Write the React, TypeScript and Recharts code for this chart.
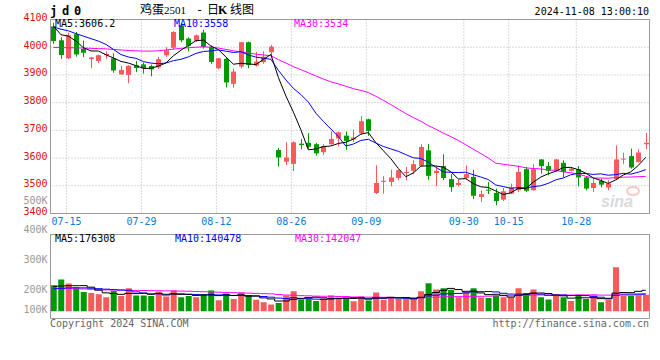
import React from 'react';
import { ComposedChart, Bar, Line, XAxis, YAxis, CartesianGrid, ReferenceLine, Cell } from 'recharts';

// trading days on screen, 07-11 .. 11-08
const dates = [
  '07-11', '07-12', '07-15', '07-16', '07-17', '07-18', '07-19', '07-22', '07-23', '07-24',
  '07-25', '07-26', '07-29', '07-30', '07-31', '08-01', '08-02', '08-05', '08-06', '08-07',
  '08-08', '08-09', '08-12', '08-13', '08-14', '08-15', '08-16', '08-19', '08-20', '08-21',
  '08-22', '08-23', '08-26', '08-27', '08-28', '08-29', '08-30', '09-02', '09-03', '09-04',
  '09-05', '09-06', '09-09', '09-10', '09-11', '09-12', '09-13', '09-18', '09-19', '09-20',
  '09-23', '09-24', '09-25', '09-26', '09-27', '09-30', '10-08', '10-09', '10-10', '10-11',
  '10-14', '10-15', '10-16', '10-17', '10-18', '10-21', '10-22', '10-23', '10-24', '10-25',
  '10-28', '10-29', '10-30', '10-31', '11-01', '11-04', '11-05', '11-06', '11-07', '11-08',
];

const opens = [
  4075, 4025, 3960, 4047, 3994, 3957, 3950, 3971, 3960, 3902,
  3900, 3935, 3938, 3932, 3927, 3971, 3998, 4079, 4031, 4023,
  4053, 4001, 3924, 3958, 3868, 3930, 4018, 3934, 3946, 3982,
  3629, 3587, 3579, 3652, 3655, 3650, 3621, 3650, 3671, 3681,
  3667, 3689, 3740, 3474, 3514, 3514, 3528, 3546, 3554, 3572,
  3628, 3546, 3571, 3524, 3503, 3528, 3532, 3460, 3486, 3474,
  3450, 3472, 3484, 3560, 3484, 3595, 3571, 3554, 3583, 3554,
  3560, 3530, 3492, 3518, 3494, 3524, 3595, 3607, 3586, 3650,
];
const highs = [
  4088, 4036, 4053, 4055, 4024, 3965, 3973, 3985, 3978, 3933,
  3935, 3950, 3945, 3937, 3965, 4000, 4058, 4086, 4036, 4046,
  4063, 4006, 3962, 3962, 3922, 4020, 4020, 3983, 3985, 4008,
  3637, 3657, 3660, 3669, 3690, 3655, 3650, 3696, 3696, 3696,
  3703, 3751, 3742, 3574, 3535, 3558, 3558, 3568, 3592, 3650,
  3650, 3568, 3614, 3542, 3522, 3573, 3558, 3484, 3514, 3490,
  3492, 3508, 3574, 3568, 3578, 3596, 3586, 3597, 3592, 3568,
  3571, 3534, 3526, 3526, 3520, 3646, 3619, 3634, 3632, 3691,
];
const lows = [
  4012, 3958, 3957, 3966, 3964, 3924, 3942, 3958, 3908, 3900,
  3870, 3910, 3905, 3895, 3922, 3965, 3992, 4018, 3985, 4020,
  3995, 3940, 3920, 3855, 3854, 3924, 3924, 3930, 3940, 3960,
  3570, 3575, 3553, 3632, 3635, 3609, 3611, 3648, 3642, 3630,
  3658, 3686, 3680, 3470, 3472, 3498, 3520, 3520, 3542, 3570,
  3522, 3499, 3520, 3478, 3498, 3522, 3452, 3442, 3470, 3430,
  3445, 3470, 3478, 3478, 3482, 3544, 3538, 3550, 3530, 3552,
  3498, 3484, 3478, 3494, 3484, 3520, 3578, 3562, 3584, 3631,
];
const closes = [
  4022, 3972, 4043, 3974, 3980, 3963, 3971, 3976, 3916, 3918,
  3933, 3925, 3925, 3920, 3957, 3989, 4055, 4025, 4005, 4043,
  4001, 3947, 3960, 3873, 3912, 4018, 3936, 3948, 3966, 4002,
  3602, 3602, 3657, 3647, 3641, 3617, 3644, 3669, 3693, 3662,
  3674, 3733, 3698, 3510, 3518, 3530, 3556, 3550, 3578, 3640,
  3536, 3554, 3528, 3495, 3510, 3542, 3464, 3470, 3484, 3445,
  3480, 3494, 3550, 3482, 3560, 3571, 3554, 3595, 3550, 3562,
  3530, 3490, 3510, 3504, 3508, 3595, 3598, 3566, 3620, 3655,
];

const ma5 = [
  4076, 4045, 4040, 4022, 3998.2, 3986.4, 3986.2, 3972.8, 3961.2, 3948.8,
  3942.8, 3933.6, 3923.4, 3924.2, 3932, 3943.2, 3969.2, 3989.2, 4006.2, 4023.4,
  4025.8, 4004.2, 3991.2, 3964.8, 3938.6, 3942, 3939.8, 3937.4, 3956, 3974,
  3890.8, 3824, 3765.8, 3702, 3629.8, 3632.8, 3641.2, 3643.6, 3652.8, 3657,
  3668.4, 3686.2, 3692, 3655.4, 3626.6, 3597.8, 3562.4, 3532.8, 3546.4, 3570.8,
  3572, 3571.6, 3567.2, 3550.6, 3524.6, 3525.8, 3507.8, 3496.2, 3494, 3481,
  3468.6, 3474.6, 3490.6, 3490.2, 3513.2, 3531.4, 3543.4, 3552.4, 3566, 3566.4,
  3558.2, 3545.4, 3528.4, 3519.2, 3508.4, 3521.4, 3539, 3550.2, 3573.4, 3602.8,
];
const ma10 = [
  4073, 4065, 4059, 4049, 4040, 4031, 4022, 4010, 3992, 3973.5,
  3964.6, 3959.9, 3948.1, 3942.7, 3940.4, 3943, 3951.4, 3956.3, 3965.2, 3977.7,
  3984.5, 3986.7, 3990.2, 3985.5, 3981, 3983.9, 3972, 3964.3, 3960.4, 3956.3,
  3916.4, 3881.9, 3851.6, 3829, 3801.9, 3761.8, 3732.6, 3704.7, 3677.4, 3643.4,
  3650.6, 3663.7, 3667.8, 3654.1, 3641.8, 3633.1, 3624.3, 3612.4, 3600.9, 3598.7,
  3584.9, 3567, 3550, 3548.5, 3547.7, 3548.9, 3539.7, 3531.7, 3522.3, 3502.8,
  3497.2, 3491.2, 3493.4, 3492.1, 3497.1, 3500, 3509, 3521.5, 3528.1, 3539.8,
  3544.8, 3544.4, 3541, 3543.2, 3538, 3540.4, 3544.8, 3541.9, 3549, 3558.3,
];
const ma30 = [
  3999, 3999, 3998, 3998, 3997, 3996, 3995, 3994, 3992, 3990,
  3988, 3987, 3986, 3986, 3987, 3990, 3993, 3996, 3998, 4000,
  4001, 4000, 3997, 3992, 3987, 3983, 3979, 3975, 3972, 3969.2,
  3955.2, 3942.8, 3930, 3919.1, 3907.8, 3896.2, 3885.3, 3875.1, 3867.7, 3859.1,
  3850.5, 3844.1, 3836.5, 3822.9, 3808.2, 3792.9, 3776.3, 3760.5, 3746.2, 3732.8,
  3717.3, 3704.2, 3689.8, 3677.2, 3663.8, 3647.9, 3632.2, 3616.3, 3600.2, 3581.6,
  3577.6, 3574, 3570.4, 3564.9, 3562.2, 3560.7, 3557.7, 3555.2, 3550.4, 3547.1,
  3542.3, 3534.2, 3527.9, 3527.7, 3527.4, 3529.6, 3531, 3531.5, 3532.9, 3533.4,
];

// volume in thousands of lots
const volumes = [
  214, 263, 228, 194, 158, 150, 139, 116, 166, 125,
  189, 130, 130, 125, 161, 122, 172, 116, 125, 116,
  139, 172, 91, 147, 100, 155, 127, 94, 74, 56,
  67, 130, 164, 97, 102, 83, 105, 130, 111, 100,
  81, 122, 88, 155, 94, 113, 100, 100, 97, 164,
  231, 180, 189, 178, 116, 158, 189, 113, 108, 130,
  116, 116, 189, 150, 180, 116, 97, 125, 116, 83,
  130, 100, 130, 74, 94, 364, 125, 125, 130, 136,
];
const volMa5 = [
  205, 208, 210, 211, 211.4, 198.6, 173.8, 151.4, 145.8, 139.2,
  147, 145.2, 148, 139.8, 147, 133.6, 142, 139.2, 139.2, 130.2,
  133.6, 133.6, 128.6, 133, 129.8, 133, 124, 124.6, 110, 101.2,
  83.6, 84.2, 98.2, 102.8, 112, 115.2, 110.2, 103.4, 106.2, 105.8,
  105.4, 108.8, 100.4, 109.2, 108, 114.4, 110, 112.4, 100.8, 114.8,
  138.4, 154.4, 172.2, 188.4, 178.8, 164.2, 166, 150.8, 136.8, 139.6,
  131.2, 116.6, 131.8, 140.2, 150.2, 150.2, 146.4, 133.6, 126.8, 107.4,
  110.2, 110.8, 111.8, 103.4, 102.2, 149, 154, 153, 164.2, 172.6,
];
const volMa10 = [
  186, 189, 192, 194, 193, 190, 186, 182, 178, 175.3,
  172.8, 159.5, 149.7, 142.8, 143.1, 140.3, 143.6, 143.6, 139.5, 138.6,
  133.6, 137.8, 133.9, 136.1, 130, 133.3, 128.8, 126.6, 121.5, 115.5,
  108.3, 104.1, 111.4, 106.4, 106.6, 99.4, 97.2, 100.8, 104.5, 108.9,
  110.3, 109.5, 101.9, 107.7, 106.9, 109.9, 109.4, 106.4, 105, 111.4,
  126.4, 132.2, 142.3, 144.6, 146.8, 151.3, 160.2, 161.5, 162.6, 159.2,
  147.7, 141.3, 141.3, 138.5, 144.9, 140.7, 131.5, 132.7, 133.5, 128.8,
  130.2, 128.6, 122.7, 115.1, 106.5, 131.3, 134.1, 134.1, 135.5, 140.8,
];
const volMa30 = [
  188, 188, 187, 186, 184, 181, 178, 176, 175, 174,
  173, 172, 171, 170, 169, 168, 167, 166, 165, 163,
  161, 159, 157, 155, 153, 151, 149, 147, 145, 143.1,
  138.2, 133.8, 131.7, 128.4, 126.6, 124.3, 123.2, 123.7, 121.8, 121,
  117.4, 117.1, 115.7, 116.7, 114.5, 114.2, 111.8, 111.3, 110.3, 111.9,
  115, 115.3, 118.5, 119.6, 120.1, 120.2, 122.3, 122.9, 124, 126.5,
  128.1, 127.7, 128.5, 130.3, 132.9, 134, 133.7, 133.5, 133.7, 133.1,
  134.8, 134, 135.4, 132.7, 132.7, 141.1, 141.9, 142.8, 143.9, 142.9,
];

const priceTicks = [3400, 3500, 3600, 3700, 3800, 3900, 4000, 4100];
const dateLabels = ['07-15', '07-29', '08-12', '08-26', '09-09', '09-30', '10-15', '10-28'];
const volLabels = ['400K', '300K', '200K', '100K'];
const volLabelY = [233, 263, 292.5, 312.5];

const W = 660;
const H = 360;
const PLOT_LEFT = 50.5;
const PLOT_RIGHT = 649.5;
const RED = '#f65a5a';
const GREEN = '#009a00';
const FRAME = '#999999';
const GRID = '#b4b4b4';
const MONO = '"DejaVu Sans Mono", "Liberation Mono", monospace';
const CJK = '"Noto Sans CJK SC", sans-serif';
const X_DOMAIN: [number, number] = [-0.4, 79.5];
const PRICE_DOMAIN: [number, number] = [3400, 4100];
const VOL_DOMAIN: [number, number] = [-61, 635];

const rows = dates.map((date, i) => ({
  idx: i,
  date,
  open: opens[i],
  high: highs[i],
  low: lows[i],
  close: closes[i],
  ma5: ma5[i],
  ma10: ma10[i],
  ma30: ma30[i],
  vol: volumes[i],
  vma5: volMa5[i],
  vma10: volMa10[i],
  vma30: volMa30[i],
}));

// sina puts the date grid a couple of px left of the candle centre
const xTicks = dateLabels.map((d) => dates.indexOf(d) - 0.27);
const volGrid = [0, 1, 2, 3, 4].map((k) => VOL_DOMAIN[0] + (k * (VOL_DOMAIN[1] - VOL_DOMAIN[0])) / 4);

function renderCandle(props: any) {
  const { x, y, width, height, payload } = props;
  if (!payload || !isFinite(y) || !isFinite(height)) return <g />;
  const top = Math.min(y, y + height);
  const h = Math.abs(height);
  const span = payload.high - payload.low;
  const k = span > 0 ? h / span : 0;
  const py = (v: number) => top + (payload.high - v) * k;
  const cx = Math.round(x + width / 2);
  const color = payload.close >= payload.open ? RED : GREEN;
  const bTop = py(Math.max(payload.open, payload.close));
  const bBot = py(Math.min(payload.open, payload.close));
  return (
    <g>
      <line x1={cx + 0.5} x2={cx + 0.5} y1={top} y2={top + h} stroke={color} strokeWidth={1} />
      <rect x={cx - 2} y={bTop} width={5} height={Math.max(1, bBot - bTop)} fill={color} />
    </g>
  );
}

const renderDateTick = (p: any) => (
  <text x={p.x} y={p.y} dy={8.5} textAnchor="middle" fill="#0a7ad8" fontFamily={MONO} fontSize={10}>
    {dates[Math.round(p.payload.value)]}
  </text>
);

const renderPriceTick = (p: any) => (
  <text x={p.x} y={p.y + 1.5} textAnchor="end" fill="#e01010" fontFamily={MONO} fontSize={10}>
    {p.payload.value}
  </text>
);

// solid frame round a plot, drawn through the chart's own scales
const frame = (yDomain: [number, number], key: string) => [
  <ReferenceLine key={key + 'l'} x={X_DOMAIN[0]} stroke={FRAME} />,
  <ReferenceLine key={key + 'r'} x={X_DOMAIN[1]} stroke={FRAME} />,
  <ReferenceLine key={key + 't'} y={yDomain[1]} stroke={FRAME} />,
  <ReferenceLine key={key + 'b'} y={yDomain[0]} stroke={FRAME} />,
];

const lineProps = { dot: false, activeDot: false, strokeWidth: 1, isAnimationActive: false } as const;

export default function App() {
  return (
    <div style={{ position: 'absolute', left: 0, top: 0, width: W, height: H, background: '#fff', overflow: 'hidden' }}>
      <div style={{ position: 'absolute', left: 0, top: 0 }}>
        <ComposedChart width={W} height={H} data={rows} margin={{ top: 19.5, right: W - PLOT_RIGHT, bottom: 129.5, left: 0 }}>
          <CartesianGrid stroke={GRID} strokeDasharray="1 2" />
          <XAxis
            dataKey="idx"
            type="number"
            domain={X_DOMAIN}
            allowDataOverflow
            ticks={xTicks}
            interval={0}
            height={17}
            axisLine={false}
            tickLine={false}
            tickSize={0}
            tickMargin={3}
            tick={renderDateTick}
          />
          <YAxis
            type="number"
            domain={PRICE_DOMAIN}
            allowDataOverflow
            ticks={priceTicks}
            interval={0}
            width={PLOT_LEFT}
            axisLine={false}
            tickLine={false}
            tickSize={0}
            tickMargin={3}
            tick={renderPriceTick}
          />
          <Bar dataKey={(d: any) => [d.low, d.high]} shape={renderCandle} barSize={5} isAnimationActive={false} />
          <Line dataKey="ma30" stroke="#ff00ff" {...lineProps} />
          <Line dataKey="ma10" stroke="#0000ff" {...lineProps} />
          <Line dataKey="ma5" stroke="#000000" {...lineProps} />
          {frame(PRICE_DOMAIN, 'p')}
        </ComposedChart>
      </div>

      <div style={{ position: 'absolute', left: 0, top: 0 }}>
        <ComposedChart width={W} height={H} data={rows} margin={{ top: 234.5, right: W - PLOT_RIGHT, bottom: 41.5, left: 0 }}>
          <CartesianGrid stroke={GRID} strokeDasharray="1 2" />
          <XAxis
            dataKey="idx"
            type="number"
            domain={X_DOMAIN}
            allowDataOverflow
            ticks={xTicks}
            interval={0}
            height={0}
            axisLine={false}
            tickLine={false}
            tick={false}
          />
          <YAxis
            type="number"
            domain={VOL_DOMAIN}
            allowDataOverflow
            ticks={volGrid}
            interval={0}
            width={PLOT_LEFT}
            axisLine={false}
            tickLine={false}
            tick={false}
          />
          <Bar dataKey="vol" barSize={6} isAnimationActive={false}>
            {rows.map((r) => (
              <Cell key={r.idx} fill={r.close >= r.open ? RED : GREEN} />
            ))}
          </Bar>
          <Line type="step" dataKey="vma30" stroke="#ff00ff" {...lineProps} />
          <Line type="step" dataKey="vma10" stroke="#0000ff" {...lineProps} />
          <Line type="step" dataKey="vma5" stroke="#000000" {...lineProps} />
          {frame(VOL_DOMAIN, 'v')}
        </ComposedChart>
      </div>

      <svg width={W} height={H} style={{ position: 'absolute', left: 0, top: 0, pointerEvents: 'none' }}>
        <text y={15} fontFamily={MONO} fontSize={12} fontWeight="bold" fill="#000">
          <tspan x={50}>j</tspan>
          <tspan x={62}>d</tspan>
          <tspan x={74}>0</tspan>
        </text>
        <text y={14} fontSize={12} fill="#000">
          <tspan x={140} fontFamily={CJK}>鸡蛋</tspan>
          <tspan x={164} fontFamily='"Liberation Serif", serif' fontSize={11}>2501</tspan>
          <tspan x={196} fontFamily={MONO}>-</tspan>
          <tspan x={207} fontFamily={CJK}>日</tspan>
          <tspan x={218} fontFamily='"Liberation Serif", serif' fontWeight="bold">K</tspan>
          <tspan x={230} fontFamily={CJK}>线图</tspan>
        </text>
        <text x={649} y={15} textAnchor="end" fontFamily={MONO} fontSize={10} fill="#000">2024-11-08 13:00:10</text>

        <text y={27} fontFamily={MONO} fontSize={10}>
          <tspan x={55} fill="#000">MA5:3606.2</tspan>
          <tspan x={174} fill="#0000ff">MA10:3558</tspan>
          <tspan x={294} fill="#ff00ff">MA30:3534</tspan>
        </text>
        <text x={47.5} y={204} textAnchor="end" fontFamily={MONO} fontSize={10} fill="#999">500K</text>

        <text y={242} fontFamily={MONO} fontSize={10}>
          <tspan x={55} fill="#000">MA5:176308</tspan>
          <tspan x={175} fill="#0000ff">MA10:140478</tspan>
          <tspan x={295} fill="#ff00ff">MA30:142047</tspan>
        </text>
        {volLabels.map((l, i) => (
          <text key={l} x={47.5} y={volLabelY[i]} textAnchor="end" fontFamily={MONO} fontSize={10} fill="#999">
            {l}
          </text>
        ))}

        <text x={50} y={327} fontFamily={MONO} fontSize={10} fill="#666">Copyright 2024 SINA.COM</text>
        <text x={649} y={327} textAnchor="end" fontFamily={MONO} fontSize={10} fill="#666">http://finance.sina.com.cn</text>

        {/* faint sina watermark */}
        <g opacity={0.55}>
          <ellipse cx={633} cy={191} rx={6} ry={4} fill="none" stroke="#f2a0a0" strokeWidth={2} />
          <text x={601} y={207} fontFamily="Arial, sans-serif" fontStyle="italic" fontWeight="bold" fontSize={16} fill="#bdbdbd">sina</text>
        </g>
      </svg>
    </div>
  );
}
